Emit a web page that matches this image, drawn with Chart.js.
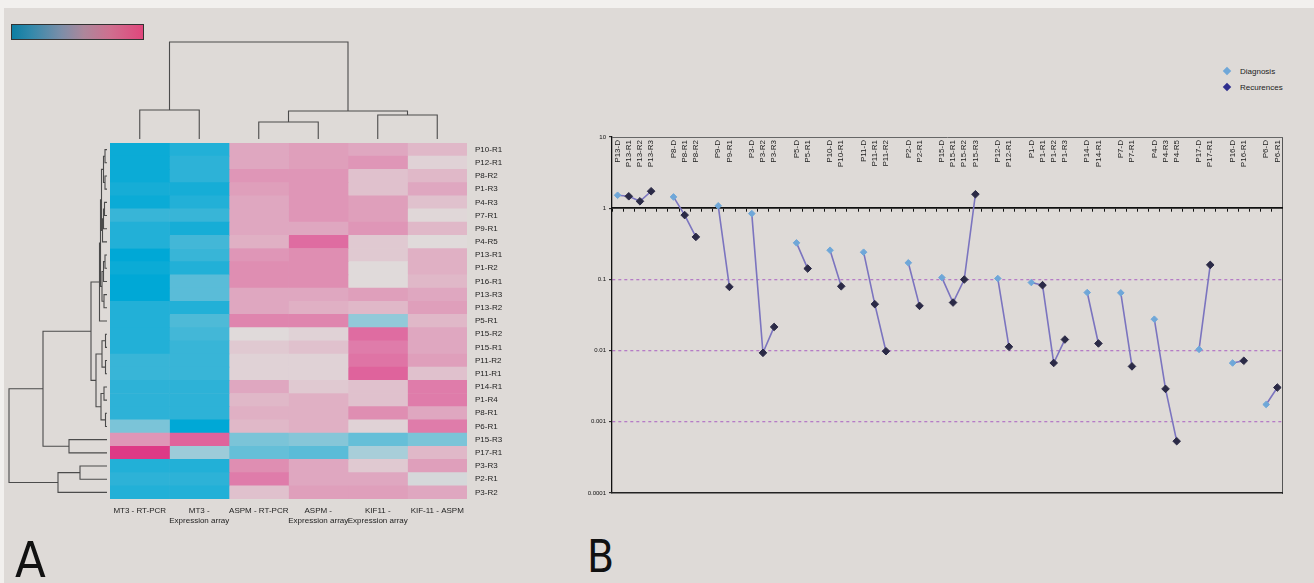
<!DOCTYPE html>
<html>
<head>
<meta charset="utf-8">
<script src="https://cdn.jsdelivr.net/npm/chart.js@4.4.1/dist/chart.umd.min.js"></script>
<style>
  body { margin: 0; background: #f2f0ee; }
  #fig { position: absolute; left: 4px; top: 8px; width: 1310px; height: 575px; background: #dedad7; }
  canvas { position: absolute; }
  .panel { position: absolute; font-family: "Liberation Sans Narrow", "DejaVu Sans Condensed", "Liberation Sans", sans-serif; color: #111; line-height: 1; }
  #colorbar { position: absolute; left: 11px; top: 24px; width: 131px; height: 14px; border: 1px solid #333;
    background: linear-gradient(to right, #0c7ea3 0%, #3489ab 15%, #7d8ea8 38%, #ad879b 55%, #cf6f8f 75%, #e0477c 100%); }
  #legendB { position: absolute; left: 1222px; top: 63px; font: 8px "Liberation Sans", Arial, sans-serif; color: #222; }
  #legendB div { height: 16px; display: flex; align-items: center; }
  #legendB span.mk { display: inline-block; width: 6px; height: 6px; transform: rotate(45deg); margin: 0 10px 0 2px; }
</style>
</head>
<body>
<div id="fig"></div>
<div id="colorbar"></div>
<canvas id="colDendro" width="357" height="113" style="left:110px;top:30px"></canvas>
<canvas id="rowDendro" width="105" height="356" style="left:5px;top:143px"></canvas>
<canvas id="heat" width="427" height="391" style="left:110px;top:143px"></canvas>
<canvas id="lineB" width="730" height="380" style="left:560px;top:120px"></canvas>
<div id="legendB"></div>
<div class="panel" style="left:15px;top:535px;font-size:50px">A</div>
<div class="panel" style="left:587px;top:535px;font-size:44px">B</div>
<script>
var FONT = '"Liberation Sans", Arial, sans-serif';

// ---- panel A: heatmap ----
var rowLabels = ["P10-R1", "P12-R1", "P8-R2", "P1-R3", "P4-R3", "P7-R1", "P9-R1", "P4-R5", "P13-R1",
  "P1-R2", "P16-R1", "P13-R3", "P13-R2", "P5-R1", "P15-R2", "P15-R1", "P11-R2", "P11-R1", "P14-R1",
  "P1-R4", "P8-R1", "P6-R1", "P15-R3", "P17-R1", "P3-R3", "P2-R1", "P3-R2"];
var colLabels = ["MT3 - RT-PCR", ["MT3 -", "Expression array"], "ASPM - RT-PCR",
  ["ASPM -", "Expression array"], ["KIF11 -", "Expression array"], "KIF-11 - ASPM"];

var mt3Rt = [-0.95, -0.95, -0.95, -0.9, -0.95, -0.75, -0.85, -0.85, -1, -0.95, -1, -1, -0.85, -0.85,
  -0.85, -0.85, -0.75, -0.75, -0.8, -0.8, -0.8, -0.45, 0.4, 0.95, -0.85, -0.8, -0.85];
var mt3Array = [-0.85, -0.8, -0.8, -0.9, -0.85, -0.75, -0.9, -0.7, -0.75, -0.85, -0.6, -0.6, -0.85, -0.65,
  -0.7, -0.75, -0.75, -0.75, -0.8, -0.8, -0.8, -1, 0.7, -0.3, -0.85, -0.8, -0.85];
var aspmRt = [0.3, 0.3, 0.4, 0.35, 0.3, 0.3, 0.3, 0.25, 0.4, 0.45, 0.45, 0.3, 0.3, 0.5,
  0.0, 0.1, 0.05, 0.05, 0.3, 0.2, 0.25, 0.2, -0.45, -0.55, 0.45, 0.55, 0.15];
var aspmArray = [0.35, 0.35, 0.4, 0.4, 0.4, 0.4, 0.3, 0.65, 0.45, 0.45, 0.45, 0.3, 0.25, 0.5,
  0.05, 0.15, 0.05, 0.05, 0.1, 0.25, 0.25, 0.25, -0.4, -0.6, 0.3, 0.3, 0.35];
var kif11Array = [0.3, 0.4, 0.15, 0.15, 0.35, 0.35, 0.4, 0.1, 0.1, 0.0, 0.0, 0.35, 0.2, -0.35,
  0.65, 0.55, 0.6, 0.7, 0.15, 0.15, 0.45, 0.05, -0.55, -0.25, 0.1, 0.3, 0.35];
var kif11Aspm = [0.2, 0.05, 0.2, 0.3, 0.15, 0.02, 0.2, 0.0, 0.25, 0.25, 0.2, 0.3, 0.35, 0.2,
  0.3, 0.3, 0.35, 0.15, 0.55, 0.55, 0.3, 0.55, -0.45, 0.2, 0.35, -0.05, 0.3];
var heatColumns = [mt3Rt, mt3Array, aspmRt, aspmArray, kif11Array, kif11Aspm];

// dendrograms: [childA, childB, height]; new nodes are numbered after the leaves
var colLinks = [[0, 1, 29], [2, 3, 17], [4, 5, 24], [7, 8, 28], [6, 9, 97]];
var rowLinks = [[0, 1, 2], [2, 3, 2], [27, 28, 3.5], [4, 5, 2.5], [30, 6, 3.5], [31, 7, 4.5],
  [29, 32, 5.5], [8, 9, 2], [34, 10, 3.5], [11, 12, 3], [35, 36, 5], [33, 37, 6.5], [38, 13, 7.5],
  [14, 15, 1.5], [16, 17, 1.5], [40, 41, 5], [18, 19, 3], [20, 21, 1.5], [43, 44, 6], [42, 45, 11],
  [39, 46, 16], [22, 23, 38], [47, 48, 64], [24, 25, 27], [50, 26, 49], [49, 51, 98]];

// ---- panel B: log chart ----
var labelsB = ["P13-D", "P13-R1", "P13-R2", "P13-R3", "", "P8-D", "P8-R1", "P8-R2", "", "P9-D", "P9-R1", "",
  "P3-D", "P3-R2", "P3-R3", "", "P5-D", "P5-R1", "", "P10-D", "P10-R1", "", "P11-D", "P11-R1", "P11-R2", "",
  "P2-D", "P2-R1", "", "P15-D", "P15-R1", "P15-R2", "P15-R3", "", "P12-D", "P12-R1", "",
  "P1-D", "P1-R1", "P1-R2", "P1-R3", "", "P14-D", "P14-R1", "", "P7-D", "P7-R1", "",
  "P4-D", "P4-R3", "P4-R5", "", "P17-D", "P17-R1", "", "P16-D", "P16-R1", "", "P6-D", "P6-R1"];
var valuesB = [1.52, 1.47, 1.25, 1.73, null, 1.44, 0.8, 0.395, null, 1.08, 0.0785, null,
  0.84, 0.0093, 0.0215, null, 0.326, 0.142, null, 0.257, 0.08, null, 0.241, 0.0449, 0.0098, null,
  0.171, 0.0425, null, 0.106, 0.0473, 0.0996, 1.57, null, 0.103, 0.0113, null,
  0.0904, 0.083, 0.0067, 0.0143, null, 0.0654, 0.0126, null, 0.0647, 0.006, null,
  0.0276, 0.0029, 0.000534, null, 0.0104, 0.16, null, 0.0067, 0.0072, null, 0.00175, 0.00303];
var yTicksB = [0.0001, 0.001, 0.01, 0.1, 1, 10];
var yTickLabelsB = ["0.0001", "0.001", "0.01", "0.1", "1", "10"];
var seriesNames = ["Diagnosis", "Recurences"];

var blue = [0, 168, 214], pink = [222, 48, 130], neutral = [224, 218, 218];
function heatColor(v) {
  var end = v < 0 ? blue : pink;
  var t = Math.min(Math.abs(v), 1);
  var c = neutral.map(function (n, i) { return Math.round(n + (end[i] - n) * t); });
  return "rgb(" + c.join(",") + ")";
}

// axis paddings from the labels would move the plot area, drop them
function noPad(s) { s.paddingTop = 0; s.paddingBottom = 0; s.paddingLeft = 0; s.paddingRight = 0; }

function dendroSegments(links, nLeaves, vertical) {
  var pos = [], hgt = [];
  for (var i = 0; i < nLeaves; i++) { pos.push(i); hgt.push(0); }
  var sets = [];
  links.forEach(function (l) {
    var a = l[0], b = l[1], h = l[2];
    var pts = [[pos[a], hgt[a]], [pos[a], h], [pos[b], h], [pos[b], hgt[b]]];
    sets.push({
      data: pts.map(function (p) { return vertical ? { x: p[0], y: p[1] } : { x: p[1], y: p[0] }; }),
      borderColor: "#4b4b4b", borderWidth: 1.1, pointRadius: 0, showLine: true, clip: false
    });
    pos.push((pos[a] + pos[b]) / 2);
    hgt.push(h);
  });
  return sets;
}

function dendroChart(id, sets, xs, ys) {
  return new Chart(document.getElementById(id), {
    type: "scatter",
    data: { datasets: sets },
    options: {
      responsive: false, animation: false, devicePixelRatio: 1,
      layout: { padding: 0 },
      plugins: { legend: { display: false }, tooltip: { enabled: false } },
      scales: {
        x: Object.assign({ type: "linear", display: false }, xs),
        y: Object.assign({ type: "linear", display: false }, ys)
      }
    }
  });
}

dendroChart("colDendro", dendroSegments(colLinks, colLabels.length, true),
  { min: -0.5, max: 5.5 }, { min: -4, max: 109 });
dendroChart("rowDendro", dendroSegments(rowLinks, rowLabels.length, false),
  { min: -3, max: 102, reverse: true }, { min: -0.5, max: 26.5, reverse: true });

new Chart(document.getElementById("heat"), {
  type: "bar",
  data: {
    labels: rowLabels,
    datasets: heatColumns.map(function (vals, c) {
      return {
        data: rowLabels.map(function () { return [c, c + 1]; }),
        backgroundColor: vals.map(heatColor),
        borderWidth: 0, barPercentage: 1, categoryPercentage: 1, grouped: false
      };
    })
  },
  options: {
    indexAxis: "y", responsive: false, animation: false, devicePixelRatio: 1,
    layout: { padding: 0 },
    plugins: { legend: { display: false }, tooltip: { enabled: false } },
    scales: {
      y: {
        type: "category", position: "right",
        grid: { display: false, drawTicks: false }, border: { display: false },
        ticks: { font: { family: FONT, size: 8 }, color: "#222", padding: 8, autoSkip: false },
        afterFit: function (s) { s.width = 70; noPad(s); }
      },
      x: {
        type: "linear", min: 0, max: 6,
        grid: { display: false, drawTicks: false }, border: { display: false },
        afterBuildTicks: function (s) { s.ticks = colLabels.map(function (_, i) { return { value: i + 0.5 }; }); },
        ticks: {
          callback: function (v, i) { return colLabels[i]; },
          font: { family: FONT, size: 8 }, color: "#222", padding: 7, maxRotation: 0, autoSkip: false
        },
        afterFit: function (s) { s.height = 35; noPad(s); }
      }
    }
  }
});

var diagColor = "#6fa7d8", recColor = "#2b2a46";
function isDiag(ctx) { return /-D$/.test(labelsB[ctx.dataIndex]); }

var chartB = new Chart(document.getElementById("lineB"), {
  type: "line",
  data: {
    labels: labelsB,
    datasets: [{
      data: valuesB,
      xAxisID: "x", yAxisID: "y",
      spanGaps: false, tension: 0,
      borderColor: "#7b74bf", borderWidth: 1.6,
      pointStyle: "rectRot",
      pointRadius: function (ctx) { return isDiag(ctx) ? 3.3 : 3.8; },
      pointBackgroundColor: function (ctx) { return isDiag(ctx) ? diagColor : recColor; },
      pointBorderColor: function (ctx) { return isDiag(ctx) ? diagColor : recColor; },
      pointBorderWidth: 1
    }]
  },
  options: {
    responsive: false, animation: false, devicePixelRatio: 1,
    layout: { padding: { top: 17, bottom: 7, right: 2, left: 0 } },
    plugins: { legend: { display: false }, tooltip: { enabled: false } },
    scales: {
      y: {
        type: "logarithmic", min: 0.0001, max: 10, position: "left",
        afterBuildTicks: function (s) { s.ticks = yTicksB.map(function (v) { return { value: v }; }); },
        ticks: {
          callback: function (v, i) { return yTickLabelsB[i]; },
          font: { family: FONT, size: 6 }, color: "#111", padding: 3, autoSkip: false
        },
        grid: {
          color: function (ctx) { return (ctx.index >= 1 && ctx.index <= 3) ? "#b57cc6" : "rgba(0,0,0,0)"; },
          lineWidth: 1.3, tickColor: "#111", tickLength: 3, tickWidth: 1
        },
        border: { display: true, color: "#111", width: 1.3, dash: [3, 3] },
        afterFit: function (s) { s.width = 52; }
      },
      yR: {
        type: "linear", position: "right", display: true,
        ticks: { display: false }, grid: { display: false, drawTicks: false },
        border: { display: true, color: "#555", width: 1 },
        afterFit: function (s) { s.width = 0; }
      },
      x: {
        type: "category", offset: true, position: "bottom",
        ticks: { display: false }, grid: { display: false, drawTicks: false },
        border: { display: true, color: "#222", width: 1.4 },
        afterFit: function (s) { s.height = 0; }
      },
      xOne: {
        type: "category", offset: true, position: { y: 1 },
        ticks: { display: false },
        grid: { display: true, drawOnChartArea: false, offset: true, tickLength: 3, tickColor: "#111", tickWidth: 1 },
        border: { display: true, color: "#111", width: 1.7 }
      },
      xTop: {
        type: "category", offset: true, position: { y: 10 },
        grid: { display: false, drawTicks: false },
        border: { display: true, color: "#666", width: 1 },
        ticks: {
          font: { family: FONT, size: 8 }, color: "#222", padding: 3,
          minRotation: 90, maxRotation: 90, autoSkip: false
        }
      }
    }
  }
});

// legend for panel B, built as html
var legendB = document.getElementById("legendB");
[diagColor, "#2e2e8e"].forEach(function (col, i) {
  var row = document.createElement("div");
  row.innerHTML = '<span class="mk" style="background:' + col + '"></span>' + seriesNames[i];
  legendB.appendChild(row);
});
</script>
</body>
</html>
